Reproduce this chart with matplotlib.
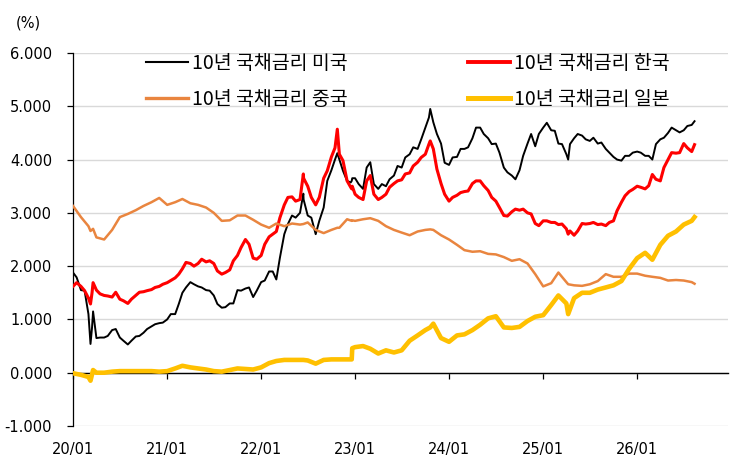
import matplotlib
matplotlib.use('Agg')
import matplotlib.pyplot as plt
import matplotlib.transforms as mtransforms
from matplotlib.lines import Line2D
import pandas as pd

# ---------------- data ----------------
months = pd.date_range('2020-01-01', '2026-08-01', freq='MS')
mid_months = pd.date_range('2020-01-01', '2026-07-01', freq='MS') + pd.Timedelta(days=14)

us_monthly = [1.88, 1.55, 1.10, 0.65, 0.66, 0.80, 0.66, 0.53, 0.68, 0.75, 0.87, 0.93,
              1.00, 1.10, 1.50, 1.70, 1.62, 1.55, 1.45, 1.22, 1.30, 1.55, 1.58, 1.42,
              1.70, 1.90, 1.75, 2.60, 2.95, 3.00, 2.95, 2.60, 3.10, 3.80, 4.00, 3.60,
              3.65, 3.45, 3.95, 3.45, 3.50, 3.70, 3.85, 4.10, 4.20, 4.60, 4.70, 4.30,
              3.90, 4.05, 4.20, 4.40, 4.60, 4.40, 4.30, 3.85, 3.70, 3.80, 4.30, 4.25,
              4.60, 4.55, 4.30, 4.10, 4.40, 4.45, 4.35, 4.30, 4.20, 4.05, 3.98, 4.07,
              4.15, 4.07, 4.00, 4.38, 4.50, 4.55, 4.55, 4.65]
us_mid = [1.79, 1.54, 0.85, 0.66, 0.69, 0.82, 0.60, 0.60, 0.69, 0.82, 0.91, 0.94,
          1.10, 1.29, 1.60, 1.66, 1.60, 1.54, 1.29, 1.23, 1.30, 1.54, 1.60, 1.54,
          1.73, 1.90, 2.16, 2.79, 2.91, 3.25, 2.91, 2.85, 3.60, 4.00, 3.79, 3.57,
          3.54, 3.85, 3.54, 3.54, 3.63, 3.88, 4.04, 4.23, 4.38, 4.79, 4.48, 3.94,
          4.04, 4.20, 4.23, 4.60, 4.48, 4.29, 4.13, 3.76, 3.63, 4.07, 4.48, 4.48,
          4.69, 4.54, 4.29, 4.29, 4.48, 4.38, 4.41, 4.32, 4.13, 4.00, 4.07, 4.13,
          4.13, 4.07, 4.29, 4.41, 4.60, 4.51, 4.63]
kr_monthly = [1.62, 1.62, 1.40, 1.55, 1.45, 1.42, 1.38, 1.30, 1.45, 1.52, 1.56, 1.62,
              1.69, 1.78, 1.95, 2.05, 2.05, 2.08, 2.05, 1.85, 1.93, 2.20, 2.50, 2.15,
              2.20, 2.55, 2.65, 3.15, 3.30, 3.25, 3.50, 3.15, 3.65, 4.05, 4.10, 3.60,
              3.35, 3.25, 3.70, 3.25, 3.35, 3.55, 3.62, 3.75, 3.95, 4.10, 4.20, 3.55,
              3.22, 3.33, 3.40, 3.55, 3.60, 3.42, 3.22, 2.95, 3.02, 3.05, 3.00, 2.80,
              2.85, 2.82, 2.78, 2.70, 2.58, 2.80, 2.80, 2.78, 2.76, 2.85, 3.20, 3.40,
              3.50, 3.45, 3.72, 3.60, 4.00, 4.12, 4.30, 4.15]
kr_mid = [1.69, 1.54, 1.50, 1.48, 1.44, 1.51, 1.35, 1.38, 1.51, 1.54, 1.60, 1.66,
          1.73, 1.85, 2.07, 2.00, 2.13, 2.10, 1.91, 1.88, 2.10, 2.35, 2.41, 2.13,
          2.41, 2.60, 2.91, 3.29, 3.22, 3.65, 3.29, 3.29, 3.79, 4.22, 3.98, 3.48,
          3.29, 3.60, 3.35, 3.29, 3.48, 3.60, 3.73, 3.88, 4.04, 4.29, 3.82, 3.35,
          3.29, 3.38, 3.41, 3.60, 3.51, 3.29, 3.10, 2.94, 3.07, 3.07, 2.98, 2.76,
          2.85, 2.82, 2.79, 2.66, 2.66, 2.79, 2.82, 2.79, 2.82, 3.04, 3.32, 3.44,
          3.48, 3.51, 3.63, 3.85, 4.13, 4.13, 4.22]
cn_monthly = [3.13, 2.92, 2.75, 2.54, 2.50, 2.68, 2.92, 2.98, 3.05, 3.13, 3.20, 3.28,
              3.15, 3.20, 3.26, 3.18, 3.15, 3.10, 3.00, 2.85, 2.86, 2.95, 2.95, 2.87,
              2.78, 2.72, 2.80, 2.75, 2.80, 2.78, 2.82, 2.68, 2.62, 2.68, 2.72, 2.88,
              2.85, 2.88, 2.90, 2.85, 2.75, 2.68, 2.63, 2.58, 2.65, 2.68, 2.68, 2.58,
              2.50, 2.40, 2.30, 2.27, 2.28, 2.23, 2.22, 2.17, 2.10, 2.13, 2.05, 1.85,
              1.62, 1.68, 1.88, 1.70, 1.64, 1.63, 1.66, 1.72, 1.85, 1.80, 1.80, 1.86,
              1.86, 1.82, 1.80, 1.78, 1.73, 1.74, 1.73, 1.70]
jp_monthly = [-0.01, -0.04, -0.08, 0.00, 0.00, 0.02, 0.03, 0.03, 0.03, 0.03, 0.03, 0.02,
              0.03, 0.08, 0.13, 0.10, 0.08, 0.06, 0.03, 0.02, 0.05, 0.08, 0.07, 0.06,
              0.10, 0.18, 0.22, 0.24, 0.24, 0.24, 0.23, 0.17, 0.24, 0.25, 0.25, 0.25,
              0.48, 0.50, 0.45, 0.36, 0.42, 0.38, 0.42, 0.60, 0.70, 0.80, 0.92, 0.65,
              0.58, 0.70, 0.72, 0.80, 0.90, 1.02, 1.06, 0.85, 0.84, 0.86, 0.97, 1.05,
              1.08, 1.27, 1.45, 1.30, 1.40, 1.50, 1.50, 1.56, 1.60, 1.64, 1.72, 1.95,
              2.15, 2.25, 2.12, 2.40, 2.57, 2.65, 2.78, 2.85]

extra_dates = ['2020-03-09', '2020-03-19', '2022-06-14', '2022-10-24', '2022-12-19',
               '2022-12-21', '2023-10-20', '2025-04-08', '2026-08-12']
us_extra = [0.54, 1.15, 3.36, 4.12, 3.60, 3.65, 4.95, 4.00, 4.72]
kr_extra = [1.29, 1.69, 3.73, 4.57, 3.45, 3.50, 4.35, 2.60, 4.28]
cn_extra = [2.66, 2.70, 2.79, 2.72, 2.85, 2.86, 2.69, 1.66, 1.67]
jp_extra = [-0.15, 0.05, 0.24, 0.25, 0.25, 0.46, 0.85, 1.10, 2.92]

labels = ['10년 국채금리 미국', '10년 국채금리 한국', '10년 국채금리 중국', '10년 국채금리 일본']
colors = ['#000000', '#FF0000', '#E9853F', '#FFC000']
tick_years = ['2020-01-01', '2021-01-01', '2022-01-01', '2023-01-01',
              '2024-01-01', '2025-01-01', '2026-01-01']
tick_labels = ['20/01', '21/01', '22/01', '23/01', '24/01', '25/01', '26/01']
y_ticks = [-1, 0, 1, 2, 3, 4, 5, 6]


def make_series(monthly, extra, mid=None):
    vals = list(monthly) + list(extra)
    idx = list(months) + list(pd.to_datetime(extra_dates))
    if mid is not None:
        vals += list(mid)
        idx += list(mid_months)
    return pd.Series(vals, index=idx).sort_index()


series = [make_series(us_monthly, us_extra, us_mid),
          make_series(kr_monthly, kr_extra, kr_mid),
          make_series(cn_monthly, cn_extra),
          make_series(jp_monthly, jp_extra)]
widths = [1.4, 2.2, 1.8, 3.3]
leg_widths = [1.5, 2.8, 2.4, 3.6]

# ---------------- figure ----------------
fig = plt.figure(figsize=(7.3, 4.65), dpi=100)
ax = fig.add_axes([73 / 730, 1 - 426 / 465, (728 - 73) / 730, (426 - 53) / 465])

for i, s in enumerate(series):
    ax.plot(s.index, s.values, color=colors[i], lw=widths[i], zorder=3 + i,
            solid_joinstyle='round')

ax.set_xlim(pd.Timestamp('2020-01-01'), pd.Timestamp('2026-12-20'))
ax.set_ylim(-1, 6)
ax.set_yticks(y_ticks)
ax.set_yticklabels([f'{v:.3f}' for v in y_ticks], family='DejaVu Sans', fontsize=10.5)
ax.yaxis.grid(True, color='#D9D9D9', lw=1.0)
ax.set_axisbelow(True)

for sp in ['top', 'right']:
    ax.spines[sp].set_visible(False)
ax.spines['left'].set_color('black')
ax.spines['left'].set_linewidth(0.9)
ax.spines['bottom'].set_position(('data', 0))
ax.spines['bottom'].set_color('black')
ax.spines['bottom'].set_linewidth(1.0)
ax.spines['bottom'].set_zorder(2)

ax.set_xticks(pd.to_datetime(tick_years))
ax.set_xticklabels([''] * len(tick_years))
ax.tick_params(axis='x', direction='out', length=4.5, width=0.9, color='black')
ax.tick_params(axis='y', direction='out', length=4.5, width=0.9, color='black', pad=10.5)

trans = mtransforms.blended_transform_factory(ax.transData, ax.transAxes)
for d, lab in zip(pd.to_datetime(tick_years), tick_labels):
    ax.text(d, -0.064, lab, transform=trans, ha='center', va='center',
            fontsize=10.5, family='DejaVu Sans', color='black')

fig.text(28 / 730, 1 - 23 / 465, '(%)', ha='center', va='center', fontsize=10.5,
         family='DejaVu Sans', color='black')

handles = [Line2D([0], [0], color=colors[i], lw=leg_widths[i]) for i in range(4)]
order = [0, 2, 1, 3]
leg = ax.legend([handles[i] for i in order], [labels[i] for i in order], ncol=2,
                loc='upper left', bbox_to_anchor=(146 / 730, 1 - 53 / 465),
                bbox_transform=fig.transFigure, frameon=False, borderpad=0,
                borderaxespad=0, handlelength=2.15, handletextpad=0.2,
                columnspacing=6.2, labelspacing=0.75,
                prop={'family': ['Noto Sans CJK KR', 'DejaVu Sans'], 'size': 14})

fig.savefig('out.png', dpi=100)
